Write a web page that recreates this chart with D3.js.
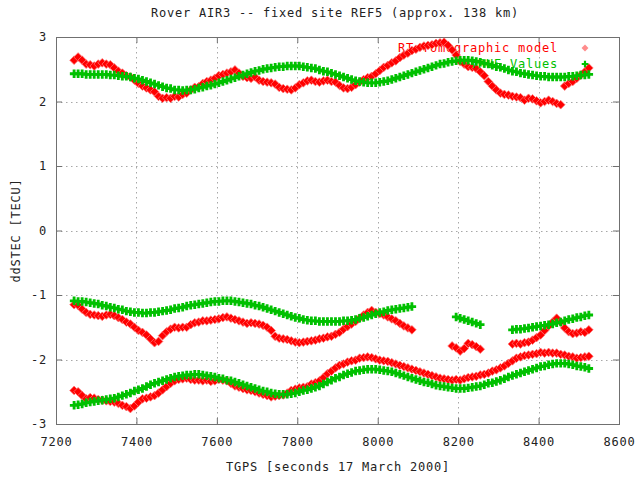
<!DOCTYPE html>
<html><head><meta charset="utf-8">
<script src="https://cdn.jsdelivr.net/npm/d3@7"></script>
<style>
html,body{margin:0;padding:0;background:#fff;}
text{font-family:"DejaVu Sans Mono","Liberation Mono",monospace;font-size:12px;letter-spacing:0.78px;}
</style></head>
<body>
<svg id="chart" width="636" height="479"></svg>
<script>
// ---- data ----
const title = "Rover AIR3 -- fixed site REF5 (approx. 138 km)";
const xLabel = "TGPS [seconds 17 March 2000]";
const yLabel = "ddSTEC [TECU]";
const seriesNames = ["RT Tomographic model", "TRUE Values"];
const xTicks = [7200, 7400, 7600, 7800, 8000, 8200, 8400, 8600];
const yTicks = [-3, -2, -1, 0, 1, 2, 3];
// sample times (seconds), one every 10 s from 7245 to 8525
const tgps = d3.range(7245, 8526, 10);

// top pair
const rtTop = [2.64,2.69,2.64,2.58,2.57,2.55,2.58,2.60,2.58,2.57,2.52,2.47,2.44,2.40,2.38,2.33,2.28,2.24,2.21,2.18,
2.15,2.08,2.05,2.06,2.05,2.08,2.07,2.11,2.13,2.18,2.22,2.23,2.28,2.31,2.33,2.36,2.40,2.42,2.44,2.46,
2.49,2.44,2.39,2.37,2.36,2.38,2.33,2.31,2.30,2.29,2.27,2.22,2.20,2.19,2.18,2.21,2.26,2.29,2.32,2.33,
2.31,2.30,2.32,2.33,2.31,2.30,2.25,2.21,2.20,2.22,2.26,2.30,2.34,2.37,2.39,2.43,2.48,2.53,2.56,2.60,
2.63,2.68,2.72,2.75,2.79,2.81,2.84,2.86,2.87,2.88,2.90,2.91,2.92,2.87,2.80,2.72,2.62,2.58,2.54,2.53,
2.51,2.46,2.40,2.31,2.24,2.18,2.13,2.11,2.10,2.08,2.07,2.06,2.02,2.05,2.04,2.01,1.98,2.00,2.02,2.00,
1.97,1.95,2.24,2.28,2.31,2.36,2.41,2.46,2.52];
const trueTop = [2.43,2.43,2.43,2.42,2.42,2.42,2.42,2.42,2.42,2.41,2.41,2.40,2.39,2.39,2.38,2.36,2.35,2.33,2.31,2.29,
2.27,2.25,2.23,2.21,2.20,2.18,2.18,2.17,2.18,2.18,2.19,2.21,2.22,2.24,2.25,2.27,2.29,2.31,2.33,2.35,
2.37,2.39,2.41,2.43,2.45,2.47,2.48,2.50,2.51,2.52,2.53,2.54,2.54,2.55,2.55,2.55,2.55,2.54,2.53,2.52,
2.51,2.49,2.47,2.46,2.44,2.42,2.40,2.38,2.36,2.34,2.32,2.31,2.30,2.29,2.29,2.29,2.30,2.31,2.32,2.34,
2.36,2.38,2.40,2.42,2.44,2.46,2.48,2.50,2.52,2.54,2.56,2.58,2.59,2.61,2.62,2.63,2.64,2.64,2.64,2.63,
2.62,2.61,2.59,2.58,2.56,2.54,2.53,2.51,2.49,2.47,2.46,2.44,2.43,2.42,2.41,2.40,2.39,2.39,2.38,2.38,
2.38,2.38,2.38,2.39,2.39,2.40,2.41,2.41,2.42];

// middle pair (null = no data)
const rtMid = [-1.15,-1.16,-1.22,-1.27,-1.30,-1.31,-1.32,-1.33,-1.31,-1.30,-1.32,-1.35,-1.38,-1.42,-1.45,-1.50,-1.55,-1.58,-1.62,-1.68,
-1.74,-1.72,-1.63,-1.57,-1.53,-1.50,-1.51,-1.50,-1.50,-1.46,-1.43,-1.42,-1.40,-1.40,-1.39,-1.38,-1.37,-1.35,-1.34,-1.36,
-1.38,-1.40,-1.42,-1.44,-1.43,-1.44,-1.45,-1.47,-1.50,-1.55,-1.64,-1.67,-1.68,-1.69,-1.71,-1.73,-1.74,-1.73,-1.72,-1.71,
-1.70,-1.68,-1.67,-1.65,-1.64,-1.61,-1.58,-1.53,-1.49,-1.45,-1.41,-1.36,-1.31,-1.27,-1.24,-1.27,-1.29,-1.31,-1.34,-1.37,
-1.40,-1.44,-1.48,-1.51,-1.54,null,null,null,null,null,null,null,null,null,-1.79,-1.82,-1.87,-1.83,-1.75,-1.77,
-1.80,-1.84,null,null,null,null,null,null,null,-1.76,-1.75,-1.76,-1.74,-1.73,-1.70,-1.66,-1.62,-1.55,-1.48,-1.42,
-1.36,-1.42,-1.51,-1.57,-1.60,-1.59,-1.57,-1.58,-1.54];
const trueMid = [-1.09,-1.10,-1.10,-1.11,-1.12,-1.13,-1.14,-1.16,-1.17,-1.19,-1.20,-1.22,-1.23,-1.25,-1.26,-1.27,-1.27,-1.28,-1.28,-1.27,
-1.27,-1.26,-1.25,-1.24,-1.23,-1.21,-1.20,-1.19,-1.17,-1.16,-1.15,-1.14,-1.13,-1.12,-1.11,-1.10,-1.10,-1.09,-1.09,-1.09,
-1.10,-1.11,-1.12,-1.13,-1.14,-1.16,-1.17,-1.19,-1.21,-1.23,-1.25,-1.27,-1.29,-1.31,-1.33,-1.35,-1.36,-1.38,-1.39,-1.40,
-1.40,-1.41,-1.41,-1.41,-1.41,-1.41,-1.41,-1.40,-1.40,-1.39,-1.38,-1.36,-1.35,-1.33,-1.31,-1.29,-1.27,-1.26,-1.24,-1.23,
-1.22,-1.21,-1.20,-1.19,-1.18,null,null,null,null,null,null,null,null,null,null,-1.34,-1.36,-1.38,-1.40,-1.42,
-1.44,-1.46,null,null,null,null,null,null,null,-1.54,-1.53,-1.53,-1.52,-1.51,-1.50,-1.49,-1.48,-1.47,-1.46,-1.45,
-1.43,-1.42,-1.40,-1.38,-1.37,-1.35,-1.34,-1.32,-1.31];

// bottom pair
const rtBot = [-2.48,-2.50,-2.56,-2.61,-2.59,-2.60,-2.62,-2.63,-2.64,-2.65,-2.66,-2.68,-2.71,-2.73,-2.76,-2.72,-2.66,-2.61,-2.60,-2.58,
-2.56,-2.52,-2.47,-2.42,-2.37,-2.33,-2.31,-2.30,-2.29,-2.31,-2.32,-2.32,-2.33,-2.32,-2.34,-2.33,-2.31,-2.32,-2.33,-2.37,
-2.41,-2.43,-2.45,-2.47,-2.48,-2.50,-2.52,-2.54,-2.56,-2.58,-2.57,-2.56,-2.55,-2.52,-2.48,-2.46,-2.44,-2.43,-2.42,-2.38,
-2.36,-2.33,-2.28,-2.22,-2.18,-2.13,-2.09,-2.07,-2.04,-2.02,-2.01,-1.98,-1.97,-1.96,-1.97,-1.99,-2.01,-2.02,-2.03,-2.05,
-2.07,-2.09,-2.11,-2.13,-2.15,-2.17,-2.19,-2.21,-2.23,-2.25,-2.27,-2.29,-2.30,-2.31,-2.32,-2.31,-2.32,-2.30,-2.28,-2.27,
-2.26,-2.24,-2.23,-2.21,-2.18,-2.16,-2.13,-2.10,-2.06,-2.02,-1.98,-1.96,-1.94,-1.93,-1.92,-1.91,-1.89,-1.90,-1.89,-1.90,
-1.90,-1.92,-1.93,-1.95,-1.96,-1.98,-1.97,-1.96,-1.95];
const trueBot = [-2.71,-2.70,-2.69,-2.67,-2.66,-2.65,-2.64,-2.63,-2.62,-2.61,-2.60,-2.58,-2.56,-2.54,-2.52,-2.49,-2.47,-2.45,-2.42,-2.39,
-2.37,-2.35,-2.33,-2.31,-2.29,-2.27,-2.26,-2.25,-2.24,-2.24,-2.23,-2.23,-2.24,-2.25,-2.26,-2.27,-2.29,-2.30,-2.32,-2.33,
-2.35,-2.37,-2.39,-2.41,-2.43,-2.45,-2.47,-2.49,-2.50,-2.52,-2.53,-2.54,-2.54,-2.54,-2.53,-2.52,-2.50,-2.48,-2.47,-2.45,
-2.43,-2.41,-2.38,-2.35,-2.32,-2.29,-2.27,-2.24,-2.22,-2.20,-2.18,-2.17,-2.16,-2.15,-2.15,-2.15,-2.16,-2.17,-2.18,-2.19,
-2.21,-2.23,-2.25,-2.27,-2.29,-2.31,-2.33,-2.35,-2.36,-2.38,-2.40,-2.41,-2.42,-2.43,-2.44,-2.45,-2.45,-2.45,-2.44,-2.43,
-2.42,-2.41,-2.39,-2.37,-2.36,-2.34,-2.32,-2.30,-2.27,-2.25,-2.23,-2.21,-2.19,-2.17,-2.15,-2.13,-2.11,-2.10,-2.08,-2.07,
-2.06,-2.06,-2.06,-2.07,-2.08,-2.10,-2.11,-2.12,-2.14];

const rtSeries = [rtTop, rtMid, rtBot];
const trueSeries = [trueTop, trueMid, trueBot];

// ---- drawing ----
const svg = d3.select("#chart");
const W = 636, H = 479;
const m = {left: 56, right: 17, top: 37, bottom: 55};
const x = d3.scaleLinear().domain([7200, 8600]).range([m.left, W - m.right]);
const y = d3.scaleLinear().domain([-3, 3]).range([H - m.bottom, m.top]);
const RED = "#ff0000", GREEN = "#00c000", AXIS = "#707070", TXT = "#222";

// grid
const grid = svg.append("g").attr("stroke", "#a8a8a8").attr("stroke-width", 1).attr("stroke-dasharray", "1.5,3.5");
grid.selectAll("line.gx").data(xTicks.slice(1, -1)).join("line")
  .attr("x1", d => Math.round(x(d)) + 0.5).attr("x2", d => Math.round(x(d)) + 0.5)
  .attr("y1", y(3)).attr("y2", y(-3));
grid.selectAll("line.gy").data(yTicks.slice(1, -1)).join("line")
  .attr("y1", d => Math.round(y(d)) + 0.5).attr("y2", d => Math.round(y(d)) + 0.5)
  .attr("x1", x(7200)).attr("x2", x(8600));

// axes (inward ticks on all four sides)
function styleAxis(g) {
  g.select(".domain").remove();
  g.selectAll(".tick line").attr("stroke", AXIS);
  g.selectAll(".tick text").attr("fill", TXT).style("font-family", '"DejaVu Sans Mono",monospace').style("font-size", "12px");
}
svg.append("g").attr("transform", `translate(0,${y(-3)})`)
  .call(d3.axisBottom(x).tickValues(xTicks).tickFormat(d3.format("d")).tickSizeInner(-6).tickSizeOuter(0).tickPadding(13))
  .call(styleAxis);
svg.append("g").attr("transform", `translate(0,${y(3)})`)
  .call(d3.axisTop(x).tickValues(xTicks).tickFormat("").tickSizeInner(-6).tickSizeOuter(0))
  .call(styleAxis);
svg.append("g").attr("transform", `translate(${x(7200)},0)`)
  .call(d3.axisLeft(y).tickValues(yTicks).tickFormat(d => d < 0 ? "-" + Math.abs(d) : String(d)).tickSizeInner(-6).tickSizeOuter(0).tickPadding(9))
  .call(styleAxis);
svg.append("g").attr("transform", `translate(${x(8600)},0)`)
  .call(d3.axisRight(y).tickValues(yTicks).tickFormat("").tickSizeInner(-6).tickSizeOuter(0))
  .call(styleAxis);

// border
svg.append("rect").attr("x", x(7200) + 0.5).attr("y", y(3) + 0.5)
  .attr("width", x(8600) - x(7200)).attr("height", y(-3) - y(3))
  .attr("fill", "none").attr("stroke", AXIS).attr("stroke-width", 1);

// labels
svg.append("text").attr("x", 335).attr("y", 17).attr("text-anchor", "middle").attr("fill", TXT).text(title);
svg.append("text").attr("x", 338).attr("y", 471).attr("text-anchor", "middle").attr("fill", TXT).text(xLabel);
svg.append("text").attr("transform", `translate(20,${(y(3) + y(-3)) / 2}) rotate(-90)`)
  .attr("text-anchor", "middle").attr("fill", TXT).text(yLabel);

const diamond = d3.symbol().type(d3.symbolSquare).size(38);
const cross = d3.symbol().type(d3.symbolCross).size(40);

function pointsOf(vals) {
  return tgps.map((t, i) => ({t, v: vals[i]})).filter(d => d.v !== null && d.v !== undefined);
}

// series 1: legend entry then points
svg.append("text").attr("x", 558).attr("y", 52).attr("text-anchor", "end").attr("fill", RED).text(seriesNames[0]);
svg.append("path").attr("d", d3.symbol().type(d3.symbolSquare).size(24)).attr("transform", "translate(585,48) rotate(45)").attr("fill", "#ff8c8c");
const gR = svg.append("g");
rtSeries.forEach(s => {
  gR.selectAll(null).data(pointsOf(s)).join("path")
    .attr("d", diamond)
    .attr("transform", d => `translate(${x(d.t)},${y(d.v)}) rotate(45)`)
    .attr("fill", RED).attr("stroke", "#ff7a7a").attr("stroke-width", 0.7);
});

// series 2: legend entry then points
svg.append("text").attr("x", 558).attr("y", 68).attr("text-anchor", "end").attr("fill", GREEN).text(seriesNames[1]);
svg.append("path").attr("d", d3.symbol().type(d3.symbolCross).size(24)).attr("transform", "translate(585,64)").attr("fill", GREEN);
const gG = svg.append("g");
trueSeries.forEach(s => {
  gG.selectAll(null).data(pointsOf(s)).join("path")
    .attr("d", cross)
    .attr("transform", d => `translate(${x(d.t)},${y(d.v)})`)
    .attr("fill", GREEN);
});
</script>
</body></html>
